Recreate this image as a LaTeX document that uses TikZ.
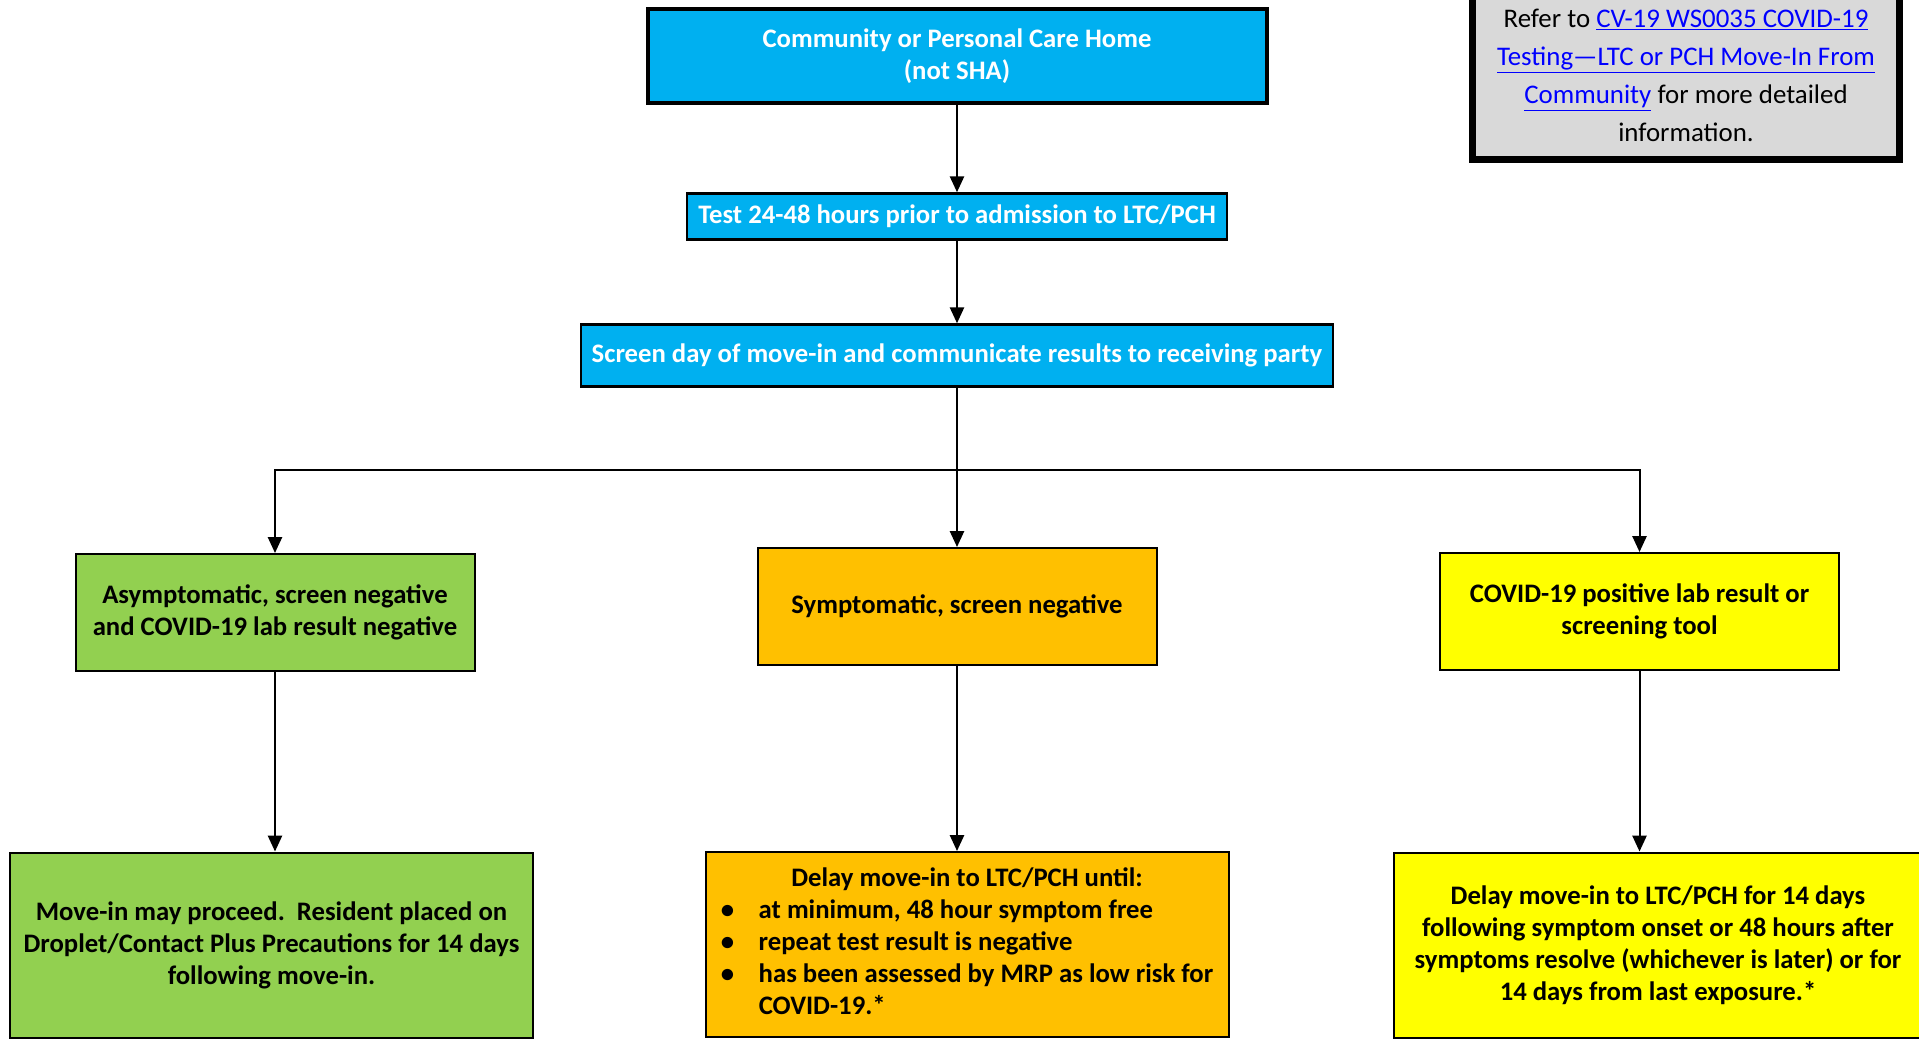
\documentclass[tikz,border=0pt]{standalone}
\usepackage{fontspec}
\setmainfont{Carlito}
\usepackage{xcolor}
\usepackage{tikz}
\usetikzlibrary{arrows.meta,positioning}
\definecolor{cSky}{HTML}{00B0F0}
\definecolor{cLeaf}{HTML}{92D050}
\definecolor{cAmber}{HTML}{FFC000}
\definecolor{cLemon}{HTML}{FFFF00}
\definecolor{cNote}{HTML}{D9D9D9}
\definecolor{cLink}{HTML}{0000FF}
\newlength\pxu
\setlength\pxu{0.02cm}
\newcommand\boxfont{\fontsize{15.2pt}{18.2pt}\selectfont\bfseries}
\newcommand\notefont{\fontsize{15.3pt}{21.6pt}\selectfont}
\newcommand\doclink[1]{\textcolor{cLink}{\underline{#1}}}
\tikzset{
  fbox/.style={draw=black,fill=#1,line width=2\pxu,align=center,font=\boxfont,inner sep=0pt,text=black},
  headbox/.style={fbox=cSky,text=white,line width=2.5\pxu},
  casebox/.style={fbox=#1,minimum width=399\pxu,minimum height=117\pxu},
  endbox/.style={fbox=#1,minimum width=523\pxu,minimum height=185\pxu},
  notebox/.style={draw=black,fill=cNote,line width=7\pxu,align=center,font=\notefont,inner sep=0pt},
  arr/.style={-{Triangle[length=9pt,width=8pt]},line width=1.15pt,color=black},
}

\begin{document}
\begin{tikzpicture}[x=\pxu,y=-\pxu]
    \useasboundingbox (0,0) rectangle (1919,1040);
    \node[headbox,line width=4\pxu,minimum width=619\pxu,minimum height=94\pxu] (home) at (957,56) {Community or Personal Care Home\\(not SHA)};
    \node[headbox,minimum width=540\pxu,minimum height=46\pxu] (test) at (957,216.5) {Test 24-48 hours prior to admission to LTC/PCH};
    \node[headbox,minimum width=752\pxu,minimum height=62\pxu] (screen) at (957,355.5) {Screen day of move-in and communicate results to receiving party};
    \node[casebox=cLeaf] (asym) at (275,612.5) {Asymptomatic, screen negative\\and COVID-19 lab result negative};
    \node[casebox=cAmber] (symp) at (957,606.5) {Symptomatic, screen negative};
    \node[casebox=cLemon] (pos) at (1639.5,611.5) {COVID-19 positive lab result or\\screening tool};
    \node[endbox=cLeaf] (proceed) at (271.5,945) {Move-in may proceed.\ \ Resident placed on\\Droplet/Contact Plus Precautions for 14 days\\following move-in.};
    \node[endbox=cAmber] (until) at (967,944.5) {\begin{tabular}{@{}p{38\pxu}@{}l@{}}
        \multicolumn{2}{c}{Delay move-in to LTC/PCH until:}\\
        \textbullet & at minimum, 48 hour symptom free\\
        \textbullet & repeat test result is negative\\
        \textbullet & has been assessed by MRP as low risk for\\
                    & COVID-19.*
      \end{tabular}};
    \node[endbox=cLemon,minimum width=528\pxu] (delay) at (1658,945) {Delay move-in to LTC/PCH for 14 days\\following symptom onset or 48 hours after\\symptoms resolve (whichever is later) or for\\14 days from last exposure.*};
    \node[notebox,minimum width=427\pxu,minimum height=169\pxu] (refer) at (1686,75) {Refer to \doclink{CV-19 WS0035 COVID-19}\\\doclink{Testing---LTC or PCH Move-In From}\\\doclink{Community} for more detailed\\information.};
    \coordinate (fork) at (957,470);
    \draw[arr] (home) -- (test);
    \draw[arr] (test) -- (screen);
    \draw[arr] (screen) -- (symp);
    \draw[arr] (fork) -| (asym);
    \draw[arr] (fork) -| (pos);
    \draw[arr] (asym) -- (asym |- proceed.north);
    \draw[arr] (symp) -- (symp |- until.north);
    \draw[arr] (pos) -- (pos |- delay.north);
  \end{tikzpicture}
\end{document}
